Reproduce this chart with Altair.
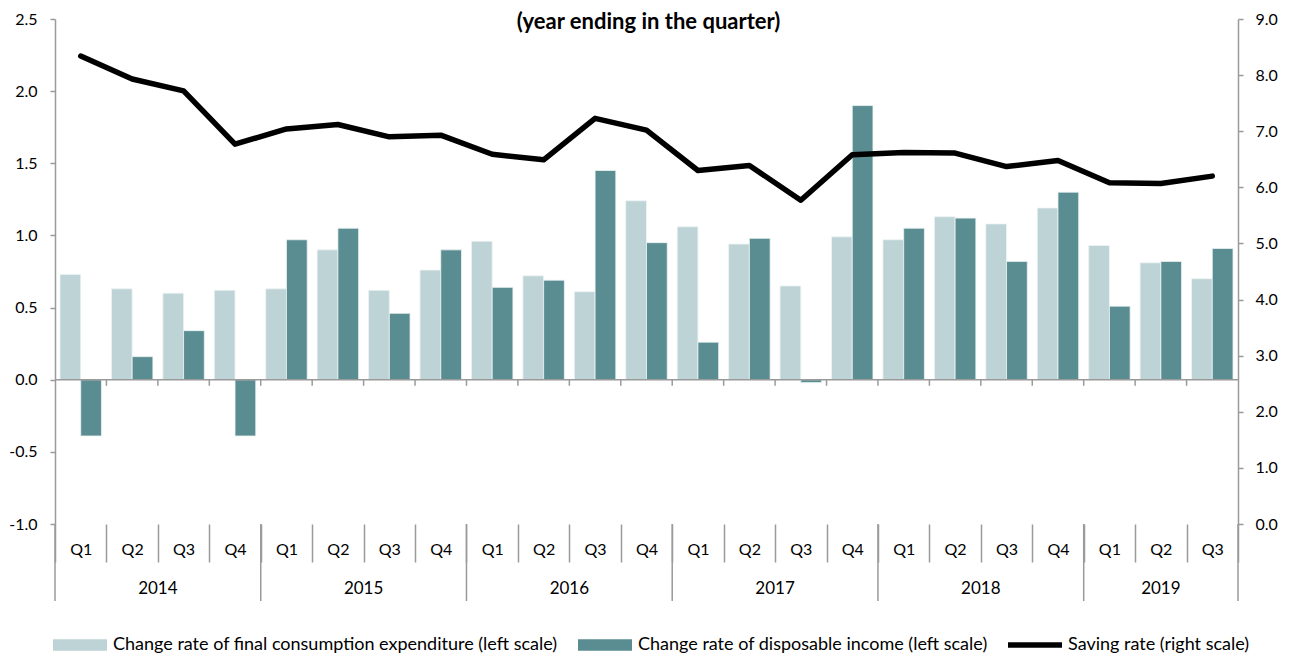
import altair as alt
import pandas as pd

# ---------------- data ----------------
years = ["2014", "2015", "2016", "2017", "2018", "2019"]
quarters_per_year = [4, 4, 4, 4, 4, 3]
quarter_names = ["Q1", "Q2", "Q3", "Q4"]

consumption = [0.73, 0.63, 0.60, 0.62,
               0.63, 0.90, 0.62, 0.76,
               0.96, 0.72, 0.61, 1.24,
               1.06, 0.94, 0.65, 0.99,
               0.97, 1.13, 1.08, 1.19,
               0.93, 0.81, 0.70]
income = [-0.39, 0.16, 0.34, -0.39,
          0.97, 1.05, 0.46, 0.90,
          0.64, 0.69, 1.45, 0.95,
          0.26, 0.98, -0.02, 1.90,
          1.05, 1.12, 0.82, 1.30,
          0.51, 0.82, 0.91]
saving = [8.34, 7.93, 7.72, 6.77,
          7.04, 7.12, 6.90, 6.93,
          6.59, 6.49, 7.23, 7.02,
          6.30, 6.39, 5.77, 6.58,
          6.62, 6.61, 6.37, 6.48,
          6.08, 6.07, 6.20]

name_cons = "Change rate of final consumption expenditure (left scale)"
name_inc = "Change rate of disposable income (left scale)"
name_sav = "Saving rate (right scale)"
title_text = "(year ending in the quarter)"

# ---------------- styles ----------------
FONT = "Lato"
C_LIGHT = "#BED3D5"
C_DARK = "#5A8D92"
C_LINE = "#000000"
GRAY = "#9A9A9A"
W, H = 1183, 505
SWATCH = "M-1,-0.21H1V0.21H-1Z"
LINE_SWATCH = "M-1,-0.1H1V0.1H-1Z"

# ---------------- tables ----------------
periods = []
for y, n in zip(years, quarters_per_year):
    for q in quarter_names[:n]:
        periods.append(f"{y} {q}")

bars_df = pd.concat([
    pd.DataFrame({"period": periods, "series": name_cons, "value": consumption}),
    pd.DataFrame({"period": periods, "series": name_inc, "value": income}),
])
line_df = pd.DataFrame({"period": periods, "saving": saving})
ticks_df = pd.DataFrame({"period": periods[1:], "z0": 0.0, "z1": -0.042})
legend_df = pd.DataFrame({"series": [name_cons, name_inc, name_sav]})

starts, mids = [], []
pos = 0
for n in quarters_per_year:
    starts.append(pos)
    mids.append(pos + n / 2)
    pos += n
years_df = pd.DataFrame({"year": years, "mid": mids})
bounds_df = pd.DataFrame({"b": starts + [pos]})

x_scale = alt.Scale(domain=periods, paddingInner=0, paddingOuter=0)
yl_scale = alt.Scale(domain=[-1, 2.5], nice=False, zero=False)
yr_scale = alt.Scale(domain=[0, 9], nice=False, zero=False)
xq = alt.Scale(domain=[0, len(periods)], nice=False, zero=False)
color_scale = alt.Scale(domain=[name_cons, name_inc, name_sav],
                        range=[C_LIGHT, C_DARK, C_LINE])
shape_scale = alt.Scale(domain=[name_cons, name_inc, name_sav],
                        range=[SWATCH, SWATCH, LINE_SWATCH])

num_label = "(datum.value < 0 ? '-' : '') + format(abs(datum.value), '.1f')"

left_axis = alt.Axis(
    values=[-1, -0.5, 0, 0.5, 1, 1.5, 2, 2.5], labelExpr=num_label, orient="left",
    tickSize=5, tickColor=GRAY, tickWidth=1.5, domainColor=GRAY, domainWidth=1.5,
    labelPadding=13, labelFontSize=16, labelFont=FONT, labelColor="black",
    grid=False, title=None,
)
right_axis = alt.Axis(
    values=[0, 1, 2, 3, 4, 5, 6, 7, 8, 9], labelExpr=num_label, orient="right",
    tickSize=5, tickColor=GRAY, tickWidth=1.5, domainColor=GRAY, domainWidth=1.5,
    labelPadding=12, labelFontSize=16, labelFont=FONT, labelColor="black",
    grid=False, title=None,
)
x_axis = alt.Axis(
    labelExpr="split(datum.label, ' ')[1]", tickBand="extent", tickSize=38,
    tickColor=GRAY, tickWidth=1.5, domain=False, labelPadding=-21, labelAngle=0,
    labelFontSize=16, labelFont=FONT, labelColor="black", grid=False, title=None,
    orient="bottom",
)

legend = alt.Legend(
    orient="none", legendX=-2, legendY=599, direction="horizontal", title=None,
    symbolSize=2916, symbolStrokeWidth=0, symbolOpacity=1,
    labelFontSize=18, labelFont=FONT, labelColor="black", labelOffset=6,
    columnPadding=20, padding=0, labelLimit=700,
)

bars = alt.Chart(bars_df).mark_bar(stroke="#EEF4F4", strokeWidth=0.8).encode(
    x=alt.X("period:N", sort=periods, scale=x_scale, axis=x_axis),
    xOffset=alt.XOffset("series:N", sort=[name_cons, name_inc],
                        scale=alt.Scale(paddingInner=0, paddingOuter=0.24)),
    y=alt.Y("value:Q", scale=yl_scale, axis=left_axis),
    color=alt.Color("series:N", scale=color_scale, legend=legend),
)

# empty layer that only carries the legend symbols (shape per series)
legend_layer = alt.Chart(legend_df).mark_point(filled=True, strokeWidth=0).encode(
    color=alt.Color("series:N", scale=color_scale, legend=legend),
    shape=alt.Shape("series:N", scale=shape_scale, legend=legend),
).transform_filter("false")

zero_rule = alt.Chart(pd.DataFrame({"z": [0.0]})).mark_rule(color=GRAY, strokeWidth=1.5).encode(
    y=alt.Y("z:Q", scale=yl_scale, axis=None)
)

zero_ticks = alt.Chart(ticks_df).mark_rule(color=GRAY, strokeWidth=1.5).encode(
    x=alt.X("period:N", sort=periods, scale=x_scale, axis=None, bandPosition=0),
    y=alt.Y("z0:Q", scale=yl_scale, axis=None),
    y2="z1:Q",
)

line = alt.Chart(line_df).mark_line(
    color=C_LINE, strokeWidth=5.5, strokeCap="round", strokeJoin="round"
).encode(
    x=alt.X("period:N", sort=periods, scale=x_scale, axis=None),
    y=alt.Y("saving:Q", scale=yr_scale, axis=right_axis),
)

year_rules = alt.Chart(bounds_df).mark_rule(color=GRAY, strokeWidth=1.5).encode(
    x=alt.X("b:Q", scale=xq, axis=None),
    y=alt.value(H), y2=alt.value(H + 77),
)
year_text = alt.Chart(years_df).mark_text(
    font=FONT, fontSize=17, color="black", baseline="middle", align="center"
).encode(
    x=alt.X("mid:Q", scale=xq, axis=None),
    y=alt.value(H + 65),
    text="year:N",
)
title_mark = alt.Chart(pd.DataFrame({"t": [title_text]})).mark_text(
    font=FONT, fontSize=22, fontWeight="bold", color="black", align="center",
    baseline="alphabetic"
).encode(x=alt.value(W / 2 + 2), y=alt.value(10), text="t:N")

chart = alt.layer(
    bars, zero_rule, zero_ticks, legend_layer, line, year_rules, year_text, title_mark
).resolve_scale(x="independent", y="independent").properties(
    width=W, height=H,
    padding={"left": 47, "top": 11, "right": 40, "bottom": 129},
    autosize=alt.AutoSizeParams(type="none"),
).configure_view(stroke=None)

chart.save("out.html", embed_options={"renderer": "svg", "actions": False})
